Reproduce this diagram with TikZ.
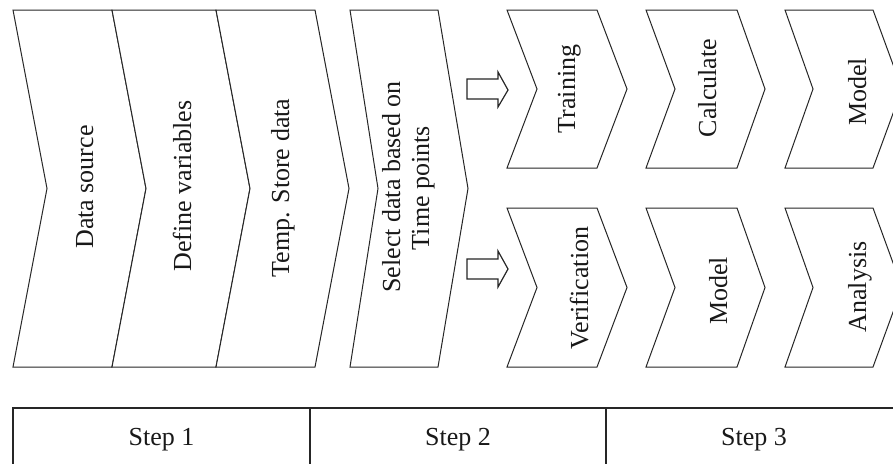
\documentclass[tikz,border=0pt]{standalone}
\usepackage{fontspec}
\setmainfont{Liberation Serif}
\newcommand\mychev[6]{% left x, notch depth, right x, tip depth, top y, bottom y
  \draw[edge] (#1,#5) -- (#3,#5) -- ({#3+#4},{(#5+#6)/2}) -- (#3,#6) -- (#1,#6) -- ({#1+#2},{(#5+#6)/2}) -- cycle;}
\begin{document}
\begin{tikzpicture}[x=1pt,y=-1pt,line join=miter,
  edge/.style={draw=black!85,line width=1pt,fill=white},
  tbl/.style={draw=black!85,line width=1.3pt},
  hollow/.style={draw=black!85,line width=1.2pt,fill=white},
  lbl/.style={rotate=90,anchor=base,inner sep=0pt,text=black!90,font=\fontsize{26}{30}\selectfont},
  steplbl/.style={anchor=base,inner sep=0pt,text=black!90,font=\fontsize{26}{30}\selectfont}]
\clip (0,0) rectangle (893,463);
\fill[white] (0,0) rectangle (893,463);
% big chevrons
\mychev{13}{34}{112}{34}{10}{367}
\mychev{112}{34}{216}{34}{10}{367}
\mychev{216}{34}{315}{34}{10}{367}
\mychev{350}{28}{438}{30}{10}{367}
% small chevrons, row 1
\mychev{507}{30}{597}{30}{10}{168}
\mychev{646}{29}{737}{28}{10}{168}
\mychev{785}{28}{873}{29}{10}{168}
% small chevrons, row 2
\mychev{507}{30}{597}{30}{208}{367}
\mychev{646}{29}{737}{28}{208}{367}
\mychev{785}{28}{873}{29}{208}{367}
% hollow arrows
\draw[hollow] (467,79) -- (498,79) -- (498,72) -- (508,90) -- (498,107) -- (498,99) -- (467,99) -- cycle;
\draw[hollow] (467,259) -- (498,259) -- (498,251) -- (508,269) -- (498,287) -- (498,279) -- (467,279) -- cycle;
% labels
\node[lbl] (ds) at (93,187) {Data source};
\node[lbl] (dv) at (191,186) {Define variables};
\node[lbl] (ts) at (289,188) {Temp. Store data};
\node[lbl] (sel1) at (400,187) {Select data based on};
\node[lbl] (sel2) at (429,188) {Time points};
\node[lbl] (tr) at (575,89) {Training};
\node[lbl] (ve) at (588,288) {Verification};
\node[lbl] (ca) at (716,88) {Calculate};
\node[lbl] (mo1) at (727,291) {Model};
\node[lbl] (mo2) at (866,92) {Model};
\node[lbl] (an) at (866,287) {Analysis};
% table
\draw[tbl] (13,408) rectangle (310,480);
\draw[tbl] (310,408) rectangle (606,480);
\draw[tbl] (606,408) rectangle (905,480);
\node[steplbl] (s1) at (161.5,445) {Step 1};
\node[steplbl] (s2) at (458,445) {Step 2};
\node[steplbl] (s3) at (754,445) {Step 3};
\end{tikzpicture}
\end{document}
